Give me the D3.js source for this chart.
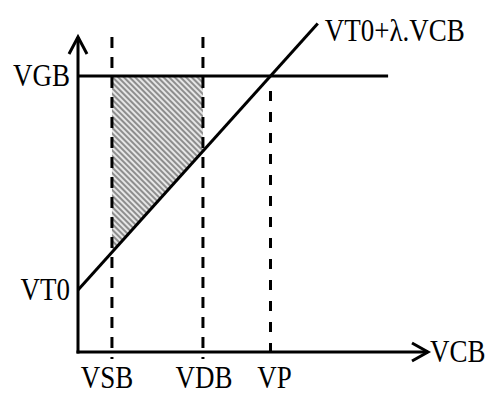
<!DOCTYPE html>
<html>
<head>
<meta charset="utf-8">
<script src="https://cdn.jsdelivr.net/npm/d3@7"></script>
<style>
  html, body { margin: 0; padding: 0; background: #fff; }
  svg { display: block; }
  text { font-family: "Liberation Serif", "Times New Roman", serif; fill: #000; }
</style>
</head>
<body>
<div id="chart"></div>
<script>
// ---- data (conceptual units) ----
const xTickLabels = ["VSB", "VDB", "VP"];
const xTickValues = [9.7, 35.7, 55];
const yTickLabels = ["VGB", "VT0"];
const yTickValues = [87.6, 19.7];
const VGB = 87.6;
const VT0 = 19.7;
const lambdaSlope = (87.6 - 19.7) / 55;
const thresholdLineX = [0, 68.5];
const vgbLineX = [0, 88.6];
const axisLabelX = "VCB";
const curveLabel = "VT0+\u03bb.VCB";

const W = 489, H = 396;
const svg = d3.select("#chart").append("svg").attr("width", W).attr("height", H);

const x = d3.scaleLinear().domain([0, 100]).range([78, 428]);
const y = d3.scaleLinear().domain([0, 100]).range([352, 37]);

const SX = 0.87, FS = 31;
function label(txt, px, py, anchor) {
  const g = svg.append("g").attr("transform", `translate(${px},${py}) scale(${SX},1)`);
  g.append("text").attr("text-anchor", anchor).attr("font-size", FS).text(txt);
}

// hatch pattern
const defs = svg.append("defs");
const pat = defs.append("pattern").attr("id", "hatch")
  .attr("patternUnits", "userSpaceOnUse").attr("width", 4).attr("height", 4)
  .attr("patternTransform", "rotate(-45)");
pat.append("rect").attr("width", 4).attr("height", 4).attr("fill", "#e6e6e6");
pat.append("line").attr("x1", 1).attr("y1", 0).attr("x2", 1).attr("y2", 4)
  .attr("stroke", "#777").attr("stroke-width", 1.6);

const vt = v => VT0 + lambdaSlope * v;

// hatched region between VSB and VDB, above threshold line, below VGB
const xs = xTickValues[0], xd = xTickValues[1];
const area = d3.area().x(d => x(d)).y0(d => y(vt(d))).y1(y(VGB));
svg.append("path").datum([xs, xd]).attr("d", area).attr("fill", "url(#hatch)");

// dashed verticals
const dash = "11,9";
svg.append("line").attr("x1", x(xs)).attr("x2", x(xs)).attr("y1", y(100)).attr("y2", y(0) + 7)
  .attr("stroke", "#000").attr("stroke-width", 3).attr("stroke-dasharray", dash);
svg.append("line").attr("x1", x(xd)).attr("x2", x(xd)).attr("y1", y(100)).attr("y2", y(0) + 7)
  .attr("stroke", "#000").attr("stroke-width", 3).attr("stroke-dasharray", dash);
svg.append("line").attr("x1", x(xTickValues[2])).attr("x2", x(xTickValues[2]))
  .attr("y1", y(VGB) + 15).attr("y2", y(0) + 12)
  .attr("stroke", "#000").attr("stroke-width", 3).attr("stroke-dasharray", "10,11");

// VGB horizontal line
svg.append("line").attr("x1", x(vgbLineX[0])).attr("x2", x(vgbLineX[1]))
  .attr("y1", y(VGB)).attr("y2", y(VGB)).attr("stroke", "#000").attr("stroke-width", 3);

// threshold line
const line = d3.line().x(d => x(d)).y(d => y(vt(d)));
svg.append("path").datum(thresholdLineX).attr("d", line)
  .attr("stroke", "#000").attr("stroke-width", 3).attr("fill", "none");

// axes
svg.append("line").attr("x1", x(0)).attr("x2", x(0)).attr("y1", y(0) + 1.5).attr("y2", y(100))
  .attr("stroke", "#000").attr("stroke-width", 3);
svg.append("line").attr("x1", x(0) - 1.5).attr("x2", x(100)).attr("y1", y(0)).attr("y2", y(0))
  .attr("stroke", "#000").attr("stroke-width", 3);
// arrow heads
svg.append("path").attr("d", `M${x(0) - 9},${y(100) + 17} L${x(0)},${y(100)} L${x(0) + 9},${y(100) + 17}`)
  .attr("stroke", "#000").attr("stroke-width", 3).attr("fill", "none");
svg.append("path").attr("d", `M${x(100) - 16},${y(0) - 9} L${x(100)},${y(0)} L${x(100) - 16},${y(0) + 9}`)
  .attr("stroke", "#000").attr("stroke-width", 3).attr("fill", "none");

// labels
yTickLabels.forEach((t, i) => label(t, x(0) - 8, y(yTickValues[i]) + 10, "end"));
const xOff = [-5, 1, 4];
xTickLabels.forEach((t, i) => label(t, x(xTickValues[i]) + xOff[i], 388, "middle"));
label(axisLabelX, x(100) + 2, y(0) + 10, "start");
label(curveLabel, x(thresholdLineX[1]) + 7, y(vt(thresholdLineX[1])) + 17, "start");
</script>
</body>
</html>
